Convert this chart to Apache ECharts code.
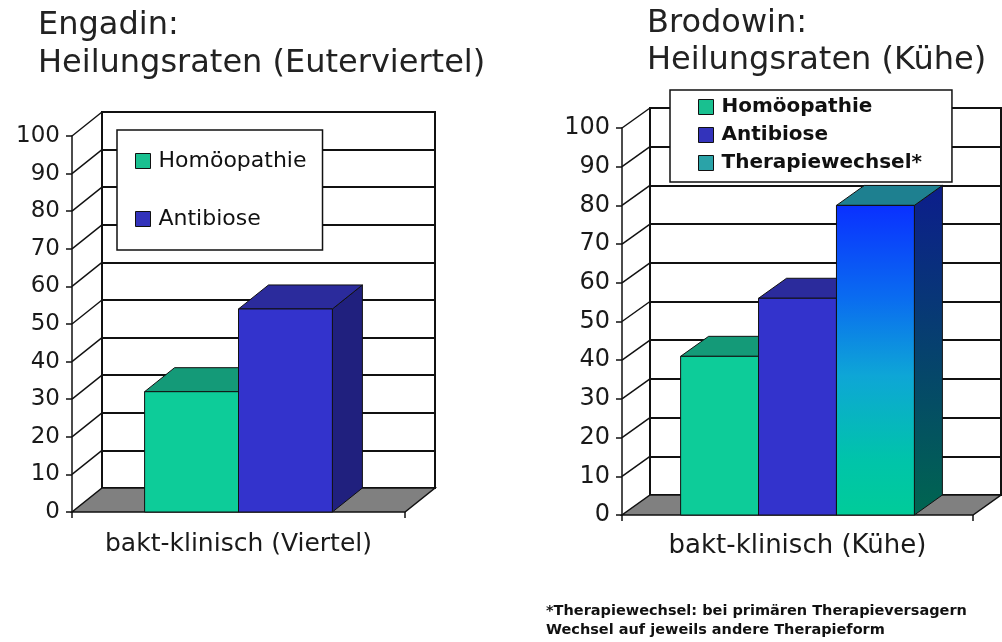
<!DOCTYPE html>
<html>
<head>
<meta charset="utf-8">
<script src="https://cdn.jsdelivr.net/npm/echarts@6/dist/echarts.min.js"></script>
<style>
  html, body { margin: 0; padding: 0; background: #fff; }
  #chart { width: 1002px; height: 642px; }
</style>
</head>
<body>
<div id="chart"></div>
<script>
// ---- data ----
const engadinCategories = ['bakt-klinisch (Viertel)'];
const engadinHomoeopathie = [32];
const engadinAntibiose = [54];

const brodowinCategories = ['bakt-klinisch (Kühe)'];
const brodowinHomoeopathie = [41];
const brodowinAntibiose = [56];
const brodowinTherapiewechsel = [80];

const yTicks = [10, 20, 30, 40, 50, 60, 70, 80, 90, 100];

const FONT = 'DejaVu Sans';
const DEPTH_L = [30, -24];
const DEPTH_R = [28, -20];

const looks = {
  homoeo: { front: '#0dcc99', top: '#149a78', side: '#0a6a55', legend: '#19c090' },
  anti: { front: '#3333cc', top: '#2b2b9c', side: '#20207e', legend: '#3333bb' },
  wechsel: {
    front: new echarts.graphic.LinearGradient(0, 0, 0, 1, [
      { offset: 0, color: '#0a30ff' },
      { offset: 0.3, color: '#0a6cf0' },
      { offset: 0.55, color: '#0ea6d6' },
      { offset: 0.82, color: '#00c4aa' },
      { offset: 1, color: '#00cc99' }
    ]),
    top: '#1e8090',
    side: new echarts.graphic.LinearGradient(0, 0, 0, 1, [
      { offset: 0, color: '#0c1d8c' },
      { offset: 1, color: '#006650' }
    ]),
    legend: '#2aa3a8'
  }
};

// 3d column: side, top and front face
const bar3d = (slot, count, ratio, depth, look) => (params, api) => {
  const base = api.coord([api.value(0), 0]);
  const top = api.coord([api.value(0), api.value(1)]);
  const band = api.size([1, 0])[0];
  const w = band * ratio;
  const x0 = base[0] - (count * w) / 2 + slot * w;
  const x1 = x0 + w;
  const [dx, dy] = depth;
  const yt = top[1];
  const yb = base[1];
  const edge = { stroke: '#111', lineWidth: 1 };
  return {
    type: 'group',
    children: [
      {
        type: 'polygon',
        shape: { points: [[x1, yt], [x1 + dx, yt + dy], [x1 + dx, yb + dy], [x1, yb]] },
        style: Object.assign({ fill: look.side }, edge)
      },
      {
        type: 'polygon',
        shape: { points: [[x0, yt], [x1, yt], [x1 + dx, yt + dy], [x0 + dx, yt + dy]] },
        style: Object.assign({ fill: look.top }, edge)
      },
      {
        type: 'rect',
        shape: { x: x0, y: yt, width: w, height: yb - yt },
        style: Object.assign({ fill: look.front }, edge)
      }
    ]
  };
};

// grey floor
const floor = depth => (params, api) => {
  const p = api.coord([0, 0]);
  const band = api.size([1, 0])[0];
  const xl = p[0] - band / 2;
  const xr = p[0] + band / 2;
  const [dx, dy] = depth;
  return {
    type: 'polygon',
    shape: { points: [[xl, p[1]], [xr, p[1]], [xr + dx, p[1] + dy], [xl + dx, p[1] + dy]] },
    style: { fill: '#808080', stroke: '#111', lineWidth: 1.5 }
  };
};

// slanted lines on the left wall
const wallLine = depth => (params, api) => {
  const p = api.coord([0, api.value(1)]);
  const band = api.size([1, 0])[0];
  const xl = p[0] - band / 2;
  return {
    type: 'line',
    shape: { x1: xl, y1: p[1], x2: xl + depth[0], y2: p[1] + depth[1] },
    style: { stroke: '#111', lineWidth: 1.5 }
  };
};

const frontY = size => ({
  type: 'value', min: 0, max: 100, interval: 10,
  axisLine: { show: true, lineStyle: { color: '#111', width: 1.5 } },
  axisTick: { show: true, length: 6, lineStyle: { color: '#111', width: 1.5 } },
  axisLabel: { color: '#1a1a1a', fontFamily: FONT, fontSize: size, margin: 12 },
  splitLine: { show: false }
});

const backY = {
  type: 'value', min: 0, max: 100, interval: 10,
  axisLine: { show: false }, axisTick: { show: false }, axisLabel: { show: false },
  splitLine: { show: true, lineStyle: { color: '#111', width: 2 } }
};

const frontX = (cats, size, margin) => ({
  type: 'category', data: cats, boundaryGap: true,
  axisLine: { show: false },
  axisTick: { show: true, length: 6, lineStyle: { color: '#111', width: 1.5 } },
  axisLabel: { color: '#1a1a1a', fontFamily: FONT, fontSize: size, margin: margin, interval: 0 }
});

const backX = cats => ({ type: 'category', data: cats, show: false });

const chart = echarts.init(document.getElementById('chart'));

chart.setOption({
  backgroundColor: '#fff',
  animation: false,
  title: [
    {
      text: 'Engadin:\nHeilungsraten (Euterviertel)',
      left: 38, top: 7, padding: 0,
      textStyle: { fontFamily: FONT, fontSize: 32, fontWeight: 'normal', color: '#222', lineHeight: 38 }
    },
    {
      text: 'Brodowin:\nHeilungsraten (Kühe)',
      left: 647, top: 5, padding: 0,
      textStyle: { fontFamily: FONT, fontSize: 32, fontWeight: 'normal', color: '#222', lineHeight: 37 }
    },
    {
      text: '*Therapiewechsel: bei primären Therapieversagern\nWechsel auf jeweils andere Therapieform',
      left: 546, top: 602, padding: 0,
      textStyle: { fontFamily: FONT, fontSize: 14.5, fontWeight: 'bold', color: '#111', lineHeight: 19 }
    }
  ],
  legend: [
    {
      data: ['Homöopathie', 'Antibiose'],
      orient: 'vertical', left: 117, top: 130,
      padding: [20, 16, 20, 18], itemGap: 36,
      itemWidth: 15, itemHeight: 15, icon: 'rect',
      itemStyle: { borderColor: '#111', borderWidth: 1 },
      backgroundColor: '#fff', borderColor: '#111', borderWidth: 1.5,
      textStyle: { fontFamily: FONT, fontSize: 22, color: '#111', padding: [0, 0, 0, 3] },
      selectedMode: false
    },
    {
      data: ['Homöopathie', 'Antibiose', 'Therapiewechsel*'],
      orient: 'vertical', left: 670, top: 90,
      padding: [7, 30, 9, 28], itemGap: 8,
      itemWidth: 15, itemHeight: 15, icon: 'rect',
      itemStyle: { borderColor: '#111', borderWidth: 1 },
      backgroundColor: '#fff', borderColor: '#111', borderWidth: 1.5,
      textStyle: { fontFamily: FONT, fontSize: 20, fontWeight: 'bold', color: '#111', padding: [0, 0, 0, 3] },
      selectedMode: false
    }
  ],
  grid: [
    { left: 72, top: 136, width: 333, height: 376, outerBoundsMode: 'none' },
    { left: 102, top: 112, width: 333, height: 376, outerBoundsMode: 'none',
      show: true, backgroundColor: '#fff', borderColor: '#111', borderWidth: 2 },
    { left: 622, top: 128, width: 351, height: 387, outerBoundsMode: 'none' },
    { left: 650, top: 108, width: 351, height: 387, outerBoundsMode: 'none',
      show: true, backgroundColor: '#fff', borderColor: '#111', borderWidth: 2 }
  ],
  xAxis: [
    Object.assign(frontX(engadinCategories, 25, 20), { gridIndex: 0 }),
    Object.assign(backX(engadinCategories), { gridIndex: 1 }),
    Object.assign(frontX(brodowinCategories, 26, 18), { gridIndex: 2 }),
    Object.assign(backX(brodowinCategories), { gridIndex: 3 })
  ],
  yAxis: [
    Object.assign(frontY(23), { gridIndex: 0 }),
    Object.assign({}, backY, { gridIndex: 1 }),
    Object.assign(frontY(24), { gridIndex: 2 }),
    Object.assign({}, backY, { gridIndex: 3 })
  ],
  series: [
    // Engadin
    { type: 'custom', xAxisIndex: 0, yAxisIndex: 0, z: 2, silent: true,
      renderItem: floor(DEPTH_L), data: [[0, 0]] },
    { type: 'custom', xAxisIndex: 0, yAxisIndex: 0, z: 2, silent: true,
      renderItem: wallLine(DEPTH_L), data: yTicks.map(v => [0, v]) },
    { type: 'custom', name: 'Homöopathie', xAxisIndex: 0, yAxisIndex: 0, z: 3,
      itemStyle: { color: looks.homoeo.legend },
      renderItem: bar3d(0, 2, 0.282, DEPTH_L, looks.homoeo),
      data: engadinHomoeopathie.map((v, i) => [i, v]) },
    { type: 'custom', name: 'Antibiose', xAxisIndex: 0, yAxisIndex: 0, z: 3,
      itemStyle: { color: looks.anti.legend },
      renderItem: bar3d(1, 2, 0.282, DEPTH_L, looks.anti),
      data: engadinAntibiose.map((v, i) => [i, v]) },
    // Brodowin
    { type: 'custom', xAxisIndex: 2, yAxisIndex: 2, z: 2, silent: true,
      renderItem: floor(DEPTH_R), data: [[0, 0]] },
    { type: 'custom', xAxisIndex: 2, yAxisIndex: 2, z: 2, silent: true,
      renderItem: wallLine(DEPTH_R), data: yTicks.map(v => [0, v]) },
    { type: 'custom', name: 'Homöopathie', xAxisIndex: 2, yAxisIndex: 2, z: 3,
      itemStyle: { color: looks.homoeo.legend },
      renderItem: bar3d(0, 3, 0.222, DEPTH_R, looks.homoeo),
      data: brodowinHomoeopathie.map((v, i) => [i, v]) },
    { type: 'custom', name: 'Antibiose', xAxisIndex: 2, yAxisIndex: 2, z: 3,
      itemStyle: { color: looks.anti.legend },
      renderItem: bar3d(1, 3, 0.222, DEPTH_R, looks.anti),
      data: brodowinAntibiose.map((v, i) => [i, v]) },
    { type: 'custom', name: 'Therapiewechsel*', xAxisIndex: 2, yAxisIndex: 2, z: 3,
      itemStyle: { color: looks.wechsel.legend },
      renderItem: bar3d(2, 3, 0.222, DEPTH_R, looks.wechsel),
      data: brodowinTherapiewechsel.map((v, i) => [i, v]) }
  ]
});

window.addEventListener('resize', () => chart.resize());
</script>
</body>
</html>
